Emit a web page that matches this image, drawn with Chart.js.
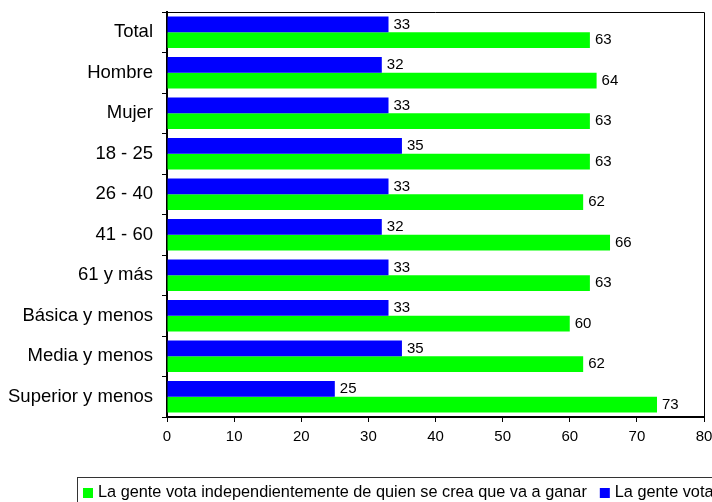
<!DOCTYPE html>
<html>
<head>
<meta charset="utf-8">
<script src="https://cdn.jsdelivr.net/npm/chart.js@4.4.0/dist/chart.umd.min.js"></script>
<style>
  html, body { margin: 0; padding: 0; background: #fff; }
  canvas { display: block; }
</style>
</head>
<body>
<canvas id="c" width="712" height="502" style="width:712px;height:502px"></canvas>
<script>
const categories = ['Total', 'Hombre', 'Mujer', '18 - 25', '26 - 40', '41 - 60', '61 y más', 'Básica y menos', 'Media y menos', 'Superior y menos'];
const blueValues = [33, 32, 33, 35, 33, 32, 33, 33, 35, 25];
const greenValues = [63, 64, 63, 63, 62, 66, 63, 60, 62, 73];
const blueLabel = 'La gente vota por quien cree que va a ganar';
const greenLabel = 'La gente vota independientemente de quien se crea que va a ganar';
const xTicks = [0, 10, 20, 30, 40, 50, 60, 70, 80];

const FONT = "'Liberation Sans', Arial, sans-serif";

const frame = {
  id: 'frame',
  afterDatasetsDraw(chart) {
    const a = chart.chartArea, ctx = chart.ctx;
    ctx.save();
    ctx.strokeStyle = '#000';
    ctx.lineWidth = 1;
    ctx.beginPath();
    ctx.moveTo(a.left, a.top + 0.5);
    ctx.lineTo(Math.round(a.right) + 0.5, a.top + 0.5);
    ctx.lineTo(Math.round(a.right) + 0.5, a.bottom);
    ctx.stroke();
    ctx.restore();
  }
};

const valueLabels = {
  id: 'valueLabels',
  afterDatasetsDraw(chart) {
    const ctx = chart.ctx;
    ctx.save();
    ctx.font = '15px ' + FONT;
    ctx.fillStyle = '#000';
    ctx.textAlign = 'left';
    ctx.textBaseline = 'middle';
    chart.data.datasets.forEach((ds, di) => {
      const meta = chart.getDatasetMeta(di);
      meta.data.forEach((el, i) => {
        ctx.fillText(String(ds.data[i]), el.x + 5, el.y);
      });
    });
    ctx.restore();
  }
};

const boxLegend = {
  id: 'boxLegend',
  afterDraw(chart) {
    const ctx = chart.ctx;
    ctx.save();
    ctx.strokeStyle = '#333';
    ctx.lineWidth = 1;
    ctx.strokeRect(77.5, 477.5, 760, 40);
    ctx.font = '16.3px ' + FONT;
    ctx.textBaseline = 'middle';
    ctx.textAlign = 'left';
    const order = [1, 0];
    let x = 83;
    const yc = 493;
    order.forEach(di => {
      const ds = chart.data.datasets[di];
      ctx.fillStyle = ds.backgroundColor;
      ctx.fillRect(x, yc - 5, 10, 10);
      x += 15;
      ctx.fillStyle = '#000';
      ctx.fillText(ds.label, x, yc);
      x += ctx.measureText(ds.label).width + 13;
    });
    ctx.restore();
  }
};

new Chart(document.getElementById('c'), {
  type: 'bar',
  data: {
    labels: categories,
    datasets: [
      { label: blueLabel, data: blueValues, backgroundColor: '#0000FF', categoryPercentage: 0.775, barPercentage: 1.0 },
      { label: greenLabel, data: greenValues, backgroundColor: '#00FF00', categoryPercentage: 0.775, barPercentage: 1.0 }
    ]
  },
  options: {
    indexAxis: 'y',
    responsive: false,
    animation: false,
    devicePixelRatio: 1,
    layout: { padding: { top: 12, right: 8, bottom: 55, left: 0 } },
    plugins: {
      legend: { display: false },
      tooltip: { enabled: false }
    },
    scales: {
      x: {
        min: 0,
        max: 80,
        afterBuildTicks(scale) { scale.ticks = xTicks.map(v => ({ value: v })); },
        ticks: { font: { size: 15, family: FONT }, color: '#000', padding: 6, maxRotation: 0 },
        grid: { drawOnChartArea: false, drawTicks: true, tickLength: 5, tickColor: '#000', tickWidth: 1 },
        border: { color: '#000', width: 2 },
        afterFit(scale) { scale.height = 30; scale.paddingLeft = 0; scale.paddingRight = 0; }
      },
      y: {
        ticks: { font: { size: 18.5, family: FONT }, color: '#000', padding: 9 },
        grid: { drawOnChartArea: false, drawTicks: true, tickLength: 5, tickColor: '#000', tickWidth: 1, offset: true },
        border: { color: '#000', width: 2 },
        afterFit(scale) { scale.width = 167; scale.paddingTop = 0; scale.paddingBottom = 0; }
      }
    }
  },
  plugins: [frame, valueLabels, boxLegend]
});
</script>
</body>
</html>
